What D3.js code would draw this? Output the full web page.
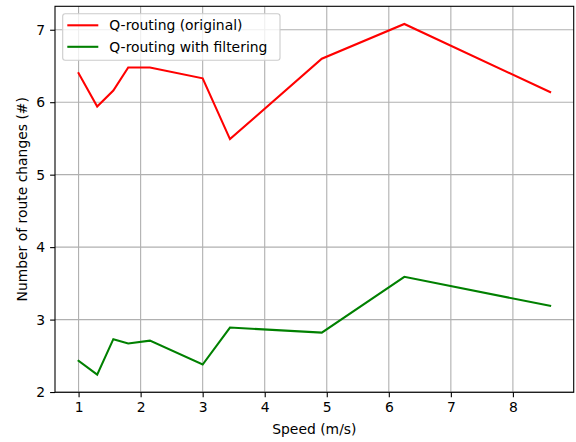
<!DOCTYPE html>
<html><head><meta charset="utf-8">
<script src="https://cdn.jsdelivr.net/npm/d3@7"></script>
<style>body{margin:0;background:#fff}svg{display:block}text{font-family:"DejaVu Sans",sans-serif;}</style>
</head><body>
<svg id="c" width="576" height="442"></svg>
<script>
const speeds = [1.0, 1.3, 1.56, 1.8, 2.15, 3.0, 3.44, 4.92, 6.25, 8.6];
const original = [6.40, 5.94, 6.16, 6.48, 6.48, 6.33, 5.49, 6.60, 7.08, 6.14];
const filtered = [2.43, 2.24, 2.73, 2.67, 2.71, 2.38, 2.89, 2.82, 3.59, 3.19];
const xTicks = [1, 2, 3, 4, 5, 6, 7, 8];
const yTicks = [2, 3, 4, 5, 6, 7];
const seriesNames = ["Q-routing (original)", "Q-routing with filtering"];
const seriesColors = ["#ff0000", "#008000"];

const L = 55, R = 573.7, T = 6.3, B = 392.3;
const svg = d3.select("#c");
const x = d3.scaleLinear().domain([0.62, 8.98]).range([L, R]);
const y = d3.scaleLinear().domain([1.9965, 7.3235]).range([B, T]);

// grid
const g = svg.append("g");
g.selectAll(".gx").data(xTicks).join("line")
  .attr("x1", d => x(d)).attr("x2", d => x(d)).attr("y1", T).attr("y2", B)
  .attr("stroke", "#b0b0b0").attr("stroke-width", 1.1);
g.selectAll(".gy").data(yTicks).join("line")
  .attr("y1", d => y(d)).attr("y2", d => y(d)).attr("x1", L).attr("x2", R)
  .attr("stroke", "#b0b0b0").attr("stroke-width", 1.1);

// lines
const line = d3.line().x((d, i) => x(speeds[i])).y(d => y(d));
[original, filtered].forEach((s, k) => {
  svg.append("path").datum(s).attr("d", line).attr("fill", "none")
    .attr("stroke", seriesColors[k]).attr("stroke-width", 2.08)
    .attr("stroke-linejoin", "miter").attr("stroke-linecap", "square");
});

// axes
const xa = svg.append("g").attr("transform", `translate(0,${B})`)
  .call(d3.axisBottom(x).tickValues(xTicks).tickSize(4.9).tickPadding(4.9).tickFormat(d3.format("d")));
const ya = svg.append("g").attr("transform", `translate(${L},0)`)
  .call(d3.axisLeft(y).tickValues(yTicks).tickSize(4.9).tickPadding(4.9).tickFormat(d3.format("d")));
[xa, ya].forEach(a => {
  a.select(".domain").remove();
  a.selectAll(".tick line").attr("stroke", "#000").attr("stroke-width", 1.1);
  a.selectAll(".tick text").attr("font-size", "13.9px").attr("fill", "#000")
    .attr("font-family", "DejaVu Sans");
});

// frame
svg.append("rect").attr("x", L).attr("y", T).attr("width", R - L).attr("height", B - T)
  .attr("fill", "none").attr("stroke", "#000").attr("stroke-width", 1.1);

// axis labels
svg.append("text").attr("x", (L + R) / 2).attr("y", 434).attr("text-anchor", "middle")
  .attr("font-size", "13.9px").text("Speed (m/s)");
svg.append("text").attr("transform", `translate(27,${(T + B) / 2}) rotate(-90)`)
  .attr("text-anchor", "middle").attr("font-size", "13.9px").text("Number of route changes (#)");

// legend
const lg = svg.append("g");
lg.append("rect").attr("x", 62.7).attr("y", 13.7).attr("width", 217.3).attr("height", 46.6)
  .attr("rx", 2.5).attr("fill", "#fff").attr("fill-opacity", 0.8)
  .attr("stroke", "#cccccc").attr("stroke-width", 1.1);
seriesNames.forEach((n, i) => {
  const yy = 25.3 + i * 21.5;
  lg.append("line").attr("x1", 67.3).attr("x2", 98.3).attr("y1", yy).attr("y2", yy)
    .attr("stroke", seriesColors[i]).attr("stroke-width", 2.08);
  lg.append("text").attr("x", 109.3).attr("y", yy + 5).attr("font-size", "13.9px").text(n);
});
</script>
</body></html>
